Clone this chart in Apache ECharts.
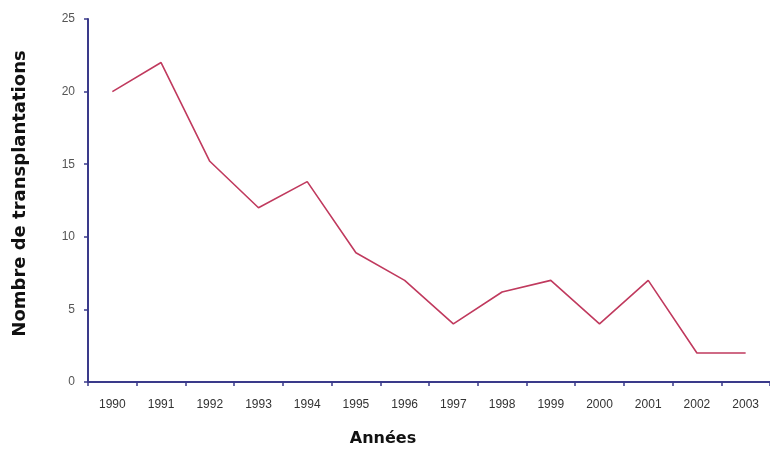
<!DOCTYPE html>
<html>
<head>
<meta charset="utf-8">
<script src="https://cdn.jsdelivr.net/npm/echarts@6/dist/echarts.min.js"></script>
<style>
html,body{margin:0;padding:0;background:#fff;}
#chart{width:770px;height:455px;}
</style>
</head>
<body>
<div id="chart"></div>
<script>
var years = ['1990','1991','1992','1993','1994','1995','1996','1997','1998','1999','2000','2001','2002','2003'];
var transplants = [20, 22, 15.2, 12, 13.8, 8.9, 7, 4, 6.2, 7, 4, 7, 2, 2];
var yTicks = [0, 5, 10, 15, 20, 25];

var chart = echarts.init(document.getElementById('chart'));
var axisColor = '#3a3a8a';
chart.setOption({
  backgroundColor: '#ffffff',
  animation: false,
  grid: { left: 88, top: 19, width: 690, bottom: 73, containLabel: false },
  xAxis: {
    type: 'category',
    data: years,
    boundaryGap: true,
    name: 'Années',
    nameLocation: 'middle',
    nameGap: 49,
    nameTextStyle: { fontFamily: 'DejaVu Sans', fontWeight: 'bold', fontSize: 16, color: '#111', padding: [0, 92, 0, 0] },
    axisLine: { lineStyle: { color: axisColor, width: 2 } },
    axisTick: { show: true, length: 4, lineStyle: { color: axisColor, width: 1.5 } },
    axisLabel: { margin: 17, fontFamily: 'Liberation Sans', fontSize: 12, color: '#333', interval: 0 },
    splitLine: { show: false }
  },
  yAxis: {
    type: 'value',
    min: yTicks[0],
    max: yTicks[yTicks.length - 1],
    interval: 5,
    name: 'Nombre de transplantations',
    nameLocation: 'middle',
    nameGap: 59,
    nameTextStyle: { fontFamily: 'DejaVu Sans', fontWeight: 'bold', fontSize: 18, color: '#111', padding: [0, 0, 0, 14] },
    axisLine: { show: true, lineStyle: { color: axisColor, width: 2 } },
    axisTick: { show: true, length: 4, lineStyle: { color: axisColor, width: 1.5 } },
    axisLabel: { margin: 13, fontFamily: 'Liberation Sans', fontSize: 12, color: '#555' },
    splitLine: { show: false }
  },
  series: [{
    type: 'line',
    data: transplants,
    symbol: 'none',
    lineStyle: { color: '#c03a5e', width: 1.6 },
    itemStyle: { color: '#c03a5e' }
  }]
});
</script>
</body>
</html>
